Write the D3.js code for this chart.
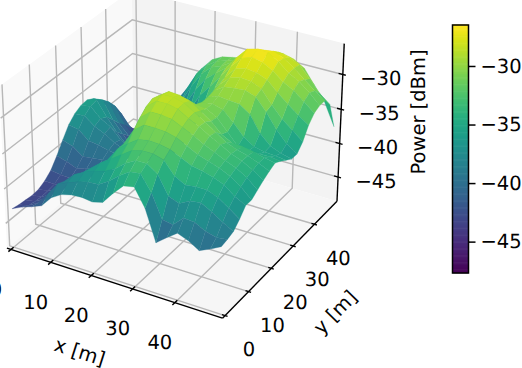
<!DOCTYPE html>
<html>
<head>
<meta charset="utf-8">
<script src="https://cdn.jsdelivr.net/npm/d3@7"></script>
<style>
  html, body { margin: 0; padding: 0; background: #fff; overflow: hidden; }
  text { font-family: "DejaVu Sans", sans-serif; fill: #000; text-rendering: geometricPrecision; opacity: 0.99; }
</style>
</head>
<body>
<div class="chart"></div>
<script>
// grid positions in metres
const xGrid = d3.range(21).map(i => i * 2.5)
const yGrid = d3.range(21).map(i => i * 2.5)

// power in dBm, one row per yGrid entry
const power = [
  [-43,-42.3,-41.8,-41.2,-39.6,-38.7,-38.3,-38.2,-38.4,-38,-36.3,-34.8,-34.5,-37,-41.4,-40.2,-39.1,-39.7,-40.6,-39.9,-39.1],
  [-43.2,-42.8,-42,-40.3,-38.4,-37.8,-37.2,-36.8,-36.7,-35.8,-34.6,-33.6,-33.4,-35.6,-38.9,-39.2,-37.8,-37.9,-38.7,-39.1,-38.9],
  [-43.3,-43,-42.2,-40.8,-38.8,-37.4,-36.6,-36,-35.6,-34.8,-33.6,-32.8,-32.8,-33.8,-36.4,-37,-36.2,-36,-36.8,-37.8,-38.6],
  [-43.4,-43.1,-42.4,-41.2,-39.6,-38,-36.8,-35.6,-34.6,-33.6,-32.6,-32.2,-32.2,-32.6,-34.4,-35.2,-35,-35,-35.6,-36.6,-37.7],
  [-43.3,-43,-42.6,-41.6,-40.4,-39,-37.6,-36,-34,-32.8,-31.8,-31.5,-31.6,-31.9,-32.6,-33.3,-33.6,-34,-34.6,-35.8,-36.6],
  [-42.8,-42.8,-42.6,-41.8,-41,-39.8,-38.6,-36.8,-34,-31.6,-30.5,-30.5,-30.6,-31,-31.7,-32.5,-33,-33.5,-34.2,-35.2,-36.6],
  [-42,-42.2,-42.3,-41.8,-41,-40.2,-39.4,-37.5,-34,-30.6,-29.4,-29.4,-29.6,-30.3,-31,-31.8,-32.5,-33.2,-33.8,-34.7,-36],
  [-40.6,-41,-41.6,-41.2,-40.8,-40.2,-39.6,-38,-33.8,-29.8,-28.6,-28.6,-28.9,-29.8,-30.5,-31.4,-32.2,-33,-33.6,-34.4,-35.4],
  [-39,-39.5,-40.6,-40.4,-40.2,-40,-39.6,-38,-33.4,-29.4,-28.4,-28.4,-28.8,-29.7,-30.6,-31.6,-32.6,-33.2,-33.6,-34.2,-34.9],
  [-37.5,-37.8,-39,-39.2,-39.6,-39.8,-39.8,-38.4,-33.5,-29.7,-28.7,-28.8,-29.2,-30.2,-31.2,-32.6,-33.4,-33.5,-33.8,-34.2,-34.5],
  [-36.6,-36.5,-37.6,-38.3,-39.2,-39.8,-40,-39.4,-37.5,-34.6,-31.8,-30.8,-30.4,-30.6,-31.4,-33,-34.6,-34.8,-34.8,-34.8,-35],
  [-36.1,-35.8,-37.2,-38,-39.5,-40.5,-41,-40.8,-39.8,-37.8,-35.6,-33,-30.8,-30.6,-31,-32.4,-34,-35,-35.3,-35.4,-35.6],
  [-36,-35.6,-37.7,-39.5,-41,-42,-42.4,-42.2,-41.2,-39.5,-37,-34,-30.8,-30.2,-30.4,-30.5,-31.5,-33.8,-35.2,-35.8,-36.2],
  [-36.5,-36.3,-38.8,-40.5,-42.2,-43,-43.2,-42.8,-41.6,-39.6,-37,-33.8,-30.6,-29.6,-29.4,-29.3,-29.8,-31.5,-33.6,-35.2,-36.2],
  [-37.5,-37.3,-40,-41.5,-43,-43.6,-43.6,-43,-41.5,-39,-36,-33,-30.4,-29,-28.6,-28.7,-29.4,-31.2,-32.8,-34,-35.2],
  [-38.8,-38.6,-41,-42.4,-43.4,-43.6,-43,-41.8,-39.8,-37,-34.5,-32,-30,-28.4,-28,-28.2,-28.8,-30.2,-31.4,-32.6,-33.6],
  [-40.3,-40.4,-42.2,-43.2,-43.4,-42.8,-41.5,-39.5,-37,-34.5,-32.8,-31,-29.2,-27.6,-27.1,-27.4,-28.2,-29.4,-30.2,-31.4,-32.6],
  [-42.6,-42.8,-43.4,-43.4,-42.6,-41.2,-39.6,-37.3,-34.8,-32.8,-31.6,-30.4,-28.6,-27,-26.6,-26.7,-27.6,-28.8,-29.6,-30.8,-32.2],
  [-44.5,-44.2,-43.6,-42.8,-41.4,-39.6,-38,-35.4,-33.2,-31.8,-31.2,-30.3,-28.9,-28,-27.4,-27.2,-27.8,-28.8,-30,-31.2,-32.2],
  [-45.8,-44.9,-43.8,-42.4,-40.8,-39,-36.8,-34.2,-32.6,-31.6,-31.1,-30.6,-29.5,-28.9,-28.3,-28,-28.3,-29,-30.6,-32.3,-33.5],
  [-46.7,-45,-43.5,-42,-40.5,-38.8,-36.8,-34,-32.4,-31.6,-31.3,-31,-30.5,-29.9,-29.7,-28.9,-29.3,-30.2,-32.2,-34.2,-37.4]
]

const xTicks = [0, 10, 20, 30, 40]
const yTicks = [0, 10, 20, 30, 40]
const zTicks = [-45, -40, -35, -30]
const cbTicks = [-45, -40, -35, -30]
const xLimits = [-1.04, 51.04]
const yLimits = [-1.04, 51.04]
const zLimits = [-48.65, -25.65]
const cbLimits = [-47.68, -26.5]

const fmt = v => String(v).replace('-', '\u2212')

const width = 522
const height = 368

const svg = d3.select('.chart')
  .append('svg')
  .attr('width', width)
  .attr('height', height)
  .style('display', 'block')

// world box, same proportions as a default matplotlib 3d axes
const boxX = d3.scaleLinear().domain(xLimits).range([-0.595, 0.595])
const boxY = d3.scaleLinear().domain(yLimits).range([-0.595, 0.595])
const boxZ = d3.scaleLinear().domain(zLimits).range([-0.446, 0.446])

const elev = 30 * Math.PI / 180
const azim = -60 * Math.PI / 180
const dist = 10

const screenX = d3.scaleLinear().domain([0, 0.1]).range([175, 382.5])
const screenY = d3.scaleLinear().domain([0, 0.1]).range([146.2, -60.3])

const project = (x, y, z) => {
  const px = boxX(x), py = boxY(y), pz = boxZ(z)
  const right = -Math.sin(azim) * px + Math.cos(azim) * py
  const up = -Math.sin(elev) * Math.cos(azim) * px - Math.sin(elev) * Math.sin(azim) * py + Math.cos(elev) * pz
  const toward = Math.cos(elev) * Math.cos(azim) * px + Math.cos(elev) * Math.sin(azim) * py + Math.sin(elev) * pz
  const w = dist - toward
  return [screenX(right / w), screenY(up / w), w]
}

const line = pts => 'M' + pts.map(p => { const q = project(p[0], p[1], p[2]); return q[0] + ',' + q[1] }).join('L')

const [x0, x1] = xLimits
const [y0, y1] = yLimits
const [z0, z1] = zLimits

// PANES

const panes = [
  { pts: [[x0, y0, z0], [x0, y1, z0], [x0, y1, z1], [x0, y0, z1]], fill: '#f9f9f9' },
  { pts: [[x0, y1, z0], [x1, y1, z0], [x1, y1, z1], [x0, y1, z1]], fill: '#f3f3f3' },
  { pts: [[x0, y0, z0], [x1, y0, z0], [x1, y1, z0], [x0, y1, z0]], fill: '#f6f6f6' }
]

svg.selectAll('.pane')
  .data(panes)
  .enter()
  .append('path')
  .attr('class', 'pane')
  .attr('d', d => line(d.pts) + 'Z')
  .attr('fill', d => d.fill)

// GRID

const gridLines = []
xTicks.forEach(v => gridLines.push([[v, y0, z0], [v, y1, z0], [v, y1, z1]]))
yTicks.forEach(v => gridLines.push([[x1, v, z0], [x0, v, z0], [x0, v, z1]]))
zTicks.forEach(v => gridLines.push([[x0, y0, v], [x0, y1, v], [x1, y1, v]]))

svg.selectAll('.grid')
  .data(gridLines)
  .enter()
  .append('path')
  .attr('class', 'grid')
  .attr('d', line)
  .attr('fill', 'none')
  .attr('stroke', '#b8b8b8')
  .attr('stroke-width', 1.4)

// AXES

const axisLines = [
  [[x0, y0, z0], [x1, y0, z0]],
  [[x1, y0, z0], [x1, y1, z0]],
  [[x1, y1, z0], [x1, y1, z1]]
]
xTicks.forEach(v => axisLines.push([[v, y0 - 1, z0], [v, y0 + 1, z0]]))
yTicks.forEach(v => axisLines.push([[x1 - 0.7, v, z0], [x1 + 0.6, v, z0]]))
zTicks.forEach(v => axisLines.push([[x1 - 1, y1, v], [x1 + 0.7, y1, v]]))

svg.selectAll('.axis')
  .data(axisLines)
  .enter()
  .append('path')
  .attr('class', 'axis')
  .attr('d', line)
  .attr('fill', 'none')
  .attr('stroke', '#000')
  .attr('stroke-width', 1.4)

// SURFACE

const color = d3.scaleSequential(d3.interpolateViridis).domain(cbLimits)

const cells = []
for (let j = 0; j < yGrid.length - 1; j++) {
  for (let i = 0; i < xGrid.length - 1; i++) {
    const corners = [
      [xGrid[i], yGrid[j], power[j][i]],
      [xGrid[i + 1], yGrid[j], power[j][i + 1]],
      [xGrid[i + 1], yGrid[j + 1], power[j + 1][i + 1]],
      [xGrid[i], yGrid[j + 1], power[j + 1][i]]
    ]
    cells.push({
      corners: corners,
      value: d3.mean(corners, c => c[2]),
      depth: d3.mean(corners, c => project(c[0], c[1], c[2])[2])
    })
  }
}
cells.sort((a, b) => b.depth - a.depth)

svg.selectAll('.cell')
  .data(cells)
  .enter()
  .append('path')
  .attr('class', 'cell')
  .attr('d', d => line(d.corners) + 'Z')
  .attr('fill', d => color(d.value))
  .attr('stroke', d => color(d.value))
  .attr('stroke-width', 0.3)

// TICK LABELS

const fontSize = 19.5

svg.selectAll('.x-label')
  .data(xTicks)
  .enter()
  .append('text')
  .attr('class', 'x-label')
  .attr('x', d => project(d, y0, z0)[0] - 15)
  .attr('y', d => project(d, y0, z0)[1] + 39.5)
  .attr('dy', '0.36em')
  .attr('text-anchor', 'middle')
  .attr('font-size', fontSize)
  .text(fmt)

svg.selectAll('.y-label')
  .data(yTicks)
  .enter()
  .append('text')
  .attr('class', 'y-label')
  .attr('x', d => project(x1, d, z0)[0] + 24)
  .attr('y', d => project(x1, d, z0)[1] + 33.5)
  .attr('dy', '0.36em')
  .attr('text-anchor', 'middle')
  .attr('font-size', fontSize)
  .text(fmt)

svg.selectAll('.z-label')
  .data(zTicks)
  .enter()
  .append('text')
  .attr('class', 'z-label')
  .attr('x', d => project(x1, y1, d)[0] + 38)
  .attr('y', d => project(x1, y1, d)[1] + 3.8)
  .attr('dy', '0.36em')
  .attr('text-anchor', 'middle')
  .attr('font-size', fontSize)
  .text(fmt)

svg.append('text')
  .attr('transform', 'translate(80,351.5) rotate(17.7)')
  .attr('dy', '0.36em')
  .attr('text-anchor', 'middle')
  .attr('font-size', fontSize)
  .text('x [m]')

svg.append('text')
  .attr('transform', 'translate(335,312) rotate(-45.5)')
  .attr('dy', '0.36em')
  .attr('text-anchor', 'middle')
  .attr('font-size', fontSize)
  .text('y [m]')

svg.append('text')
  .attr('transform', 'translate(418,112) rotate(-90)')
  .attr('dy', '0.36em')
  .attr('text-anchor', 'middle')
  .attr('font-size', fontSize)
  .text('Power [dBm]')

// COLORBAR

const cbY = d3.scaleLinear().domain(cbLimits).range([273, 25])
const cbLevels = d3.range(cbLimits[0], cbLimits[1], 0.1)

const colorbar = svg.append('g')

colorbar.selectAll('.level')
  .data(cbLevels)
  .enter()
  .append('rect')
  .attr('class', 'level')
  .attr('x', 452.5)
  .attr('y', d => cbY(d + 0.1) - 0.3)
  .attr('width', 16)
  .attr('height', d => cbY(d) - cbY(d + 0.1) + 0.6)
  .attr('fill', d => color(d + 0.05))

colorbar.append('rect')
  .attr('x', 452.5)
  .attr('y', cbY(cbLimits[1]))
  .attr('width', 16)
  .attr('height', cbY(cbLimits[0]) - cbY(cbLimits[1]))
  .attr('fill', 'none')
  .attr('stroke', '#000')
  .attr('stroke-width', 1.5)

const cbAxis = svg.append('g')
  .attr('transform', 'translate(468.5,0)')
  .call(d3.axisRight(cbY).tickValues(cbTicks).tickSize(7).tickPadding(5).tickFormat(fmt))

cbAxis.select('.domain').remove()
cbAxis.selectAll('line').attr('stroke-width', 1.5)
cbAxis.selectAll('text')
  .attr('font-size', fontSize)
  .attr('font-family', '"DejaVu Sans", sans-serif')
</script>
</body>
</html>
